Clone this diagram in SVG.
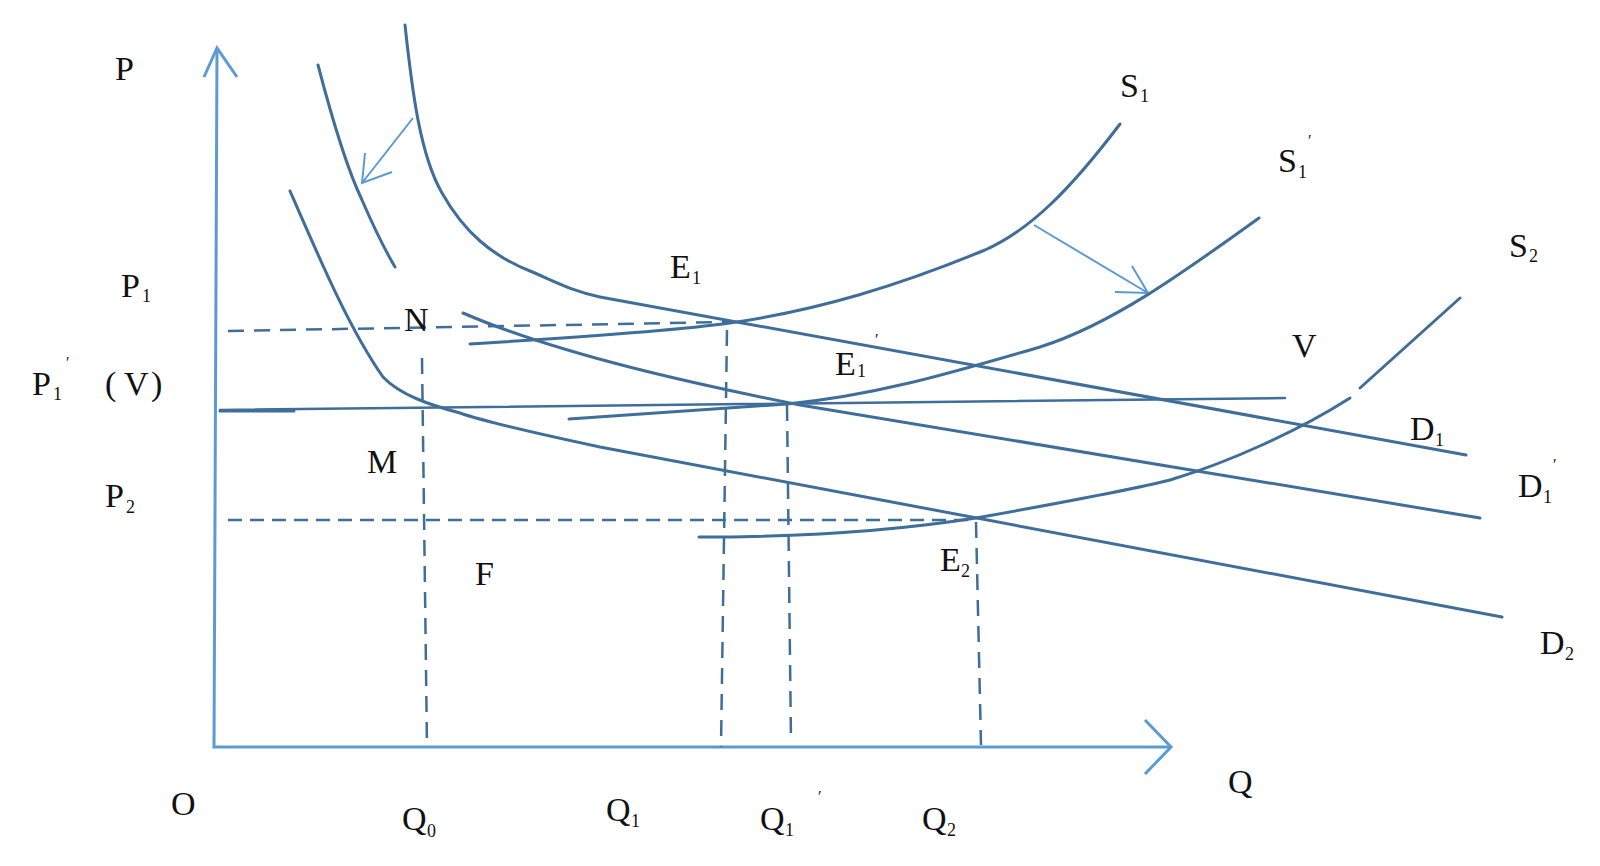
<svg xmlns="http://www.w3.org/2000/svg" width="1600" height="866" viewBox="0 0 1600 866">
<style>
.c{fill:none;stroke:#3f6e9b;stroke-width:3;stroke-linecap:round}
.ax{fill:none;stroke:#5b9bd5;stroke-width:3}
.ar{fill:none;stroke:#5b9bd5;stroke-width:2}
.d{fill:none;stroke:#3f6e9b;stroke-width:2.5;stroke-dasharray:16 10}
.dh{fill:none;stroke:#3f6e9b;stroke-width:2.5;stroke-dasharray:14 8}
text{font-family:"Liberation Serif","DejaVu Serif",serif;font-size:34px;fill:#111}
.s{font-size:18px}
.p{font-size:16px}
</style>
<rect width="1600" height="866" fill="#fff"/>
<g id="axes">
<path class="ax" d="M217,48 L214,747 L1171,747"/>
<path class="ax" d="M204,77 L217,48 L237,77"/>
<path class="ax" d="M1145,720 L1171,747 L1145,774"/>
</g>
<g id="connectors">
<path class="d" d="M228,331 L730,322"/>
<path class="dh" d="M228,520 L976,520"/>
<path class="d" d="M422,358 L427,747"/>
<path class="d" d="M727,330 L721,747"/>
<path class="d" d="M787,405 L791,742"/>
<path class="d" d="M976,522 L981,745"/>
<path class="ar" d="M413,118 L362,183 M365,153 L362,183 L392,172"/>
<path class="ar" d="M1034,225 L1148,293 M1132,266 L1148,293 L1115,292"/>
</g>
<g id="D1"><path class="c" d="M405,25 C412,90 420,155 442,193 C464,232 492,256 530,271 C560,284 575,292 600,297 L1466,455"/></g>
<g id="D1p">
<path class="c" d="M318,65 C335,130 350,175 362,200 C375,230 385,250 395,267"/>
<path class="c" d="M463,313 C560,355 700,385 800,405 L1480,518"/>
</g>
<g id="D2"><path class="c" d="M290,191 C320,260 350,330 383,377 C400,395 430,405 460,413 C480,420 520,430 600,447 L1502,617"/></g>
<g id="S1"><path class="c" d="M470,344 C600,336 680,330 730,323 C820,310 900,285 985,250 C1030,230 1070,190 1120,124"/></g>
<g id="S1p"><path class="c" d="M569,419 C650,413 720,408 787,404 C880,395 960,370 1040,347 C1110,325 1180,275 1259,218"/></g>
<g id="S2">
<path class="c" d="M699,537 C800,537 900,530 976,518 C1060,503 1130,490 1170,480 C1230,462 1300,430 1350,398"/>
<path class="c" d="M1360,388 L1460,298"/>
</g>
<g id="V"><path class="c" d="M220,410 L1285,398" style="stroke-width:2.5"/><path class="c" d="M220,411 L294,411"/></g>
<g id="labels">
<text x="115" y="80">P</text>
<text x="121" y="297">P<tspan class="s" x="142" y="302">1</tspan></text>
<text x="32" y="395">P<tspan class="s" x="53" y="400">1</tspan><tspan class="p" x="66" y="368">′</tspan></text>
<text x="105" y="395">(</text><text x="124" y="395">V</text><text x="151" y="395">)</text>
<text x="105" y="507">P<tspan class="s" x="126" y="513">2</tspan></text>
<text x="404" y="331">N</text>
<text x="367" y="473">M</text>
<text x="475" y="585">F</text>
<text x="171" y="815">O</text>
<text x="402" y="830">Q<tspan class="s" x="427" y="837">0</tspan></text>
<text x="606" y="821">Q<tspan class="s" x="631" y="827">1</tspan></text>
<text x="760" y="830">Q<tspan class="s" x="785" y="836">1</tspan><tspan class="p" x="818" y="802">′</tspan></text>
<text x="922" y="830">Q<tspan class="s" x="947" y="836">2</tspan></text>
<text x="1228" y="793">Q</text>
<text x="670" y="278">E<tspan class="s" x="692" y="284">1</tspan></text>
<text x="835" y="375">E<tspan class="s" x="857" y="377">1</tspan><tspan class="p" x="875" y="345">′</tspan></text>
<text x="940" y="571">E<tspan class="s" x="961" y="577">2</tspan></text>
<text x="1120" y="97">S<tspan class="s" x="1140" y="102">1</tspan></text>
<text x="1278" y="172">S<tspan class="s" x="1298" y="178">1</tspan><tspan class="p" x="1308" y="146">′</tspan></text>
<text x="1509" y="257">S<tspan class="s" x="1529" y="262">2</tspan></text>
<text x="1292" y="357">V</text>
<text x="1410" y="440">D<tspan class="s" x="1435" y="446">1</tspan></text>
<text x="1518" y="497">D<tspan class="s" x="1543" y="503">1</tspan><tspan class="p" x="1553" y="470">′</tspan></text>
<text x="1540" y="654">D<tspan class="s" x="1565" y="660">2</tspan></text>
</g>
</svg>
